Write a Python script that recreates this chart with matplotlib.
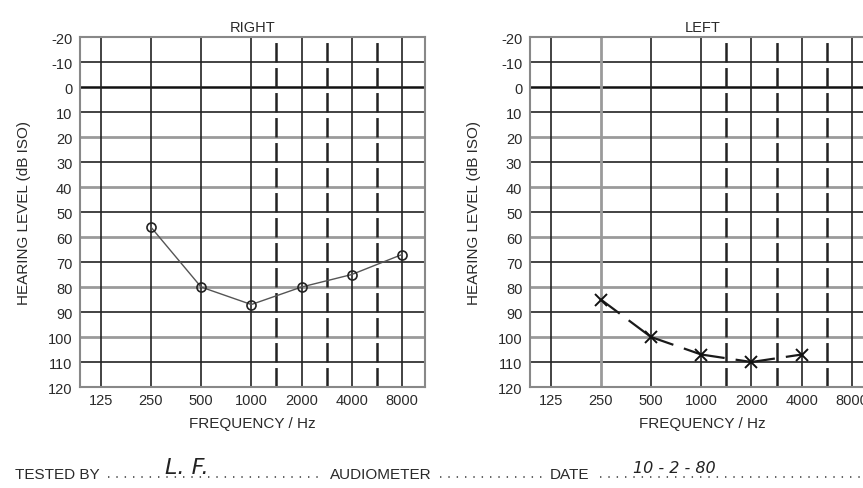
import numpy as np
import matplotlib.pyplot as plt
from matplotlib.lines import Line2D

plt.rcParams['font.family'] = ['Liberation Sans', 'DejaVu Sans']
plt.rcParams['axes.unicode_minus'] = False
plt.rcParams['lines.scale_dashes'] = False

# audiogram data
freqs = [125, 250, 500, 1000, 2000, 4000, 8000]
freq_labels = ['125', '250', '500', '1000', '2000', '4000', '8000']
half_octaves = [1414, 2828, 5657]
levels = list(range(-20, 121, 10))

right_freqs = [250, 500, 1000, 2000, 4000, 8000]
right_db = [56, 80, 87, 80, 75, 67]

left_freqs = [250, 500, 1000, 2000, 4000]
left_db = [85, 100, 107, 110, 107]

TXT = '#2a2a2a'

fig = plt.figure(figsize=(8.63, 4.89), dpi=100)
ax_r = fig.add_axes([0.0927, 0.2065, 0.3998, 0.7157])
ax_l = fig.add_axes([0.6141, 0.2065, 0.3998, 0.7157])


def setup(ax, title, gray_freqs=()):
    ax.set_xscale('log', base=2)
    ax.set_xlim(94, 11000)
    ax.set_ylim(120, -20)
    for lv in levels:
        if lv in (-20, 120):
            continue
        if lv == 0:
            ax.axhline(lv, color='#111111', lw=1.8, zorder=1)
        elif lv % 20 == 0:
            ax.axhline(lv, color='#9a9a9a', lw=2.0, zorder=1)
        else:
            ax.axhline(lv, color='#222222', lw=1.2, zorder=1)
    for f in freqs:
        if f in gray_freqs:
            ax.axvline(f, color='#9a9a9a', lw=2.0, zorder=1)
        else:
            ax.axvline(f, color='#222222', lw=1.2, zorder=1)
    for f in half_octaves:
        ax.axvline(f, color='#222222', lw=1.8, dashes=(14, 4), zorder=1)
    ax.set_xticks(freqs)
    ax.set_xticklabels(freq_labels)
    ax.minorticks_off()
    ax.set_yticks(levels)
    ax.tick_params(length=0, labelsize=10.5, colors=TXT)
    ax.tick_params(axis='y', pad=5.5)
    ax.tick_params(axis='x', pad=4)
    for s in ax.spines.values():
        s.set_color('#888888')
        s.set_linewidth(1.5)
    ax.set_title(title, fontsize=10.5, pad=4.5, color=TXT)
    ax.set_xlabel('FREQUENCY / Hz', fontsize=11, labelpad=7, color=TXT)
    ax.set_ylabel('HEARING LEVEL (dB ISO)', fontsize=11, labelpad=12, color=TXT)


setup(ax_r, 'RIGHT')
setup(ax_l, 'LEFT', gray_freqs=(250,))

# right ear: circles joined by a thin solid line
ax_r.plot(right_freqs, right_db, color='#555555', lw=1.0, marker='o', ms=6.5,
          mfc='none', mec='#222222', mew=1.2, zorder=3)

# left ear: crosses joined by broken segments, one gap per interval
for i in range(len(left_freqs) - 1):
    ax_l.plot(left_freqs[i:i + 2], left_db[i:i + 2], color='#1a1a1a', lw=1.6,
              dashes=(17, 8, 200, 1), zorder=3)
ax_l.plot(left_freqs, left_db, ls='none', marker='x', ms=8, mec='#111111',
          mew=1.4, zorder=4)

# form footer
base_y = 0.02
fig.text(0.0174, base_y, 'TESTED BY', fontsize=11, color=TXT)
fig.text(0.382, base_y, 'AUDIOMETER', fontsize=11, color=TXT)
fig.text(0.637, base_y, 'DATE', fontsize=11, color=TXT)
for x0, x1 in [(0.125, 0.373), (0.51, 0.632), (0.695, 1.0)]:
    fig.add_artist(Line2D([x0, x1], [base_y + 0.002] * 2, color='#555555',
                          lw=1.3, ls=(0, (1, 5)), transform=fig.transFigure))
fig.text(0.191, 0.03, 'L. F.', fontsize=16, style='italic', color='#222222',
         family='DejaVu Sans')
fig.text(0.733, 0.033, '10 - 2 - 80', fontsize=11.5, style='italic',
         color='#222222', family='DejaVu Sans')

fig.savefig('out.png', dpi=100)
